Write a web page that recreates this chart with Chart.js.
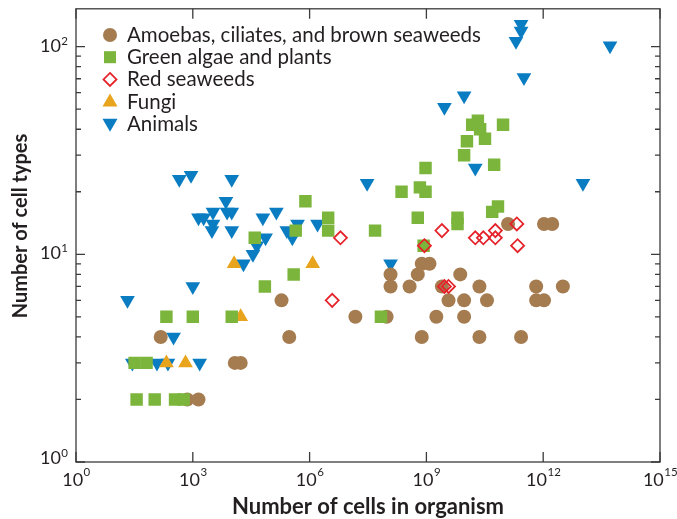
<!DOCTYPE html>
<html>
<head>
<meta charset="utf-8">
<script src="https://cdn.jsdelivr.net/npm/chart.js@4.4.0/dist/chart.umd.min.js"></script>
<style>
  html, body { margin: 0; padding: 0; background: #fff; }
</style>
</head>
<body>
<canvas id="chart" width="677" height="519"></canvas>
<script>
// Datos (x = numero de celulas, y = numero de tipos celulares)
var amoebaX = [1.5e2, 7.2e2, 1.4e3, 1.2e4, 1.7e4, 1.9e5, 3e5, 1.5e7, 9.5e7, 1.2e8, 1.2e8, 3.7e8, 6e8, 7.6e8, 1.2e9, 7.6e8, 1.8e9,
               2.5e9, 3.7e9, 7.4e9, 9.3e9, 9.3e9, 2.3e10, 2.3e10, 3.6e10, 1.25e11, 2.7e11, 6.6e11, 6.6e11, 1.05e12, 1.05e12, 1.7e12, 3.2e12];
var amoebaY = [4, 2, 2, 3, 3, 6, 4, 5, 5, 8, 7, 7, 8, 9, 9, 4, 5,
               7, 6, 8, 6, 5, 7, 4, 6, 14, 4, 7, 6, 6, 14, 14, 7];

var greenX = [3.9e5, 7.1e4, 2.1e2, 1e3, 1e4, 3.2e1, 6.5e1, 3.6e1, 1.05e2, 3.5e2, 5.8e2, 7.8e5, 3.9e4, 4.4e5, 3e6, 3e6,
              9.3e9, 9.5e8, 5.5e10, 2.3e8, 6.8e8, 9.5e8, 4.8e7, 6e8, 6.3e9, 6.3e9, 4.9e10, 6.9e10, 8.5e8, 6.8e7,
              2.1e10, 1.5e10, 9.3e10, 1.1e10, 3.2e10, 2.4e10];
var greenY = [8, 7, 5, 5, 5, 3, 3, 2, 2, 2, 2, 18, 12, 13, 15, 13,
              30, 26, 27, 20, 21, 20, 13, 15, 15, 14, 16, 17, 11, 5,
              44, 42, 42, 35, 36, 40];

var redX = [6.2e6, 3.8e6, 2.5e9, 8.9e8, 1.8e10, 2.9e10, 5.9e10, 5.9e10, 2.1e11, 2.2e11, 2.9e9, 3.7e9];
var redY = [12, 6, 13, 11, 12, 12, 13, 12, 14, 11, 7, 7];

var fungiX = [1.15e4, 1.2e6, 1.7e4, 2.1e2, 6.5e2];
var fungiY = [9, 9, 5, 3, 3];

var animalX = [2.1e1, 2.8e1, 1.2e2, 2.3e2, 1.5e3, 3.2e2, 1e3, 4.5e2, 9e2, 1e4, 7.1e3, 1.4e3, 1.9e3, 3.3e3, 7.6e3, 1e4,
               3.3e3, 3.1e3, 1e4, 6.3e4, 1.4e5, 2.6e5, 3.6e5, 4.9e5, 1.6e6, 7.4e4, 4.4e4, 3.5e4, 2e4,
               3e7, 1.8e10, 1.2e8, 1.05e13, 2.7e11, 2.7e11, 2e11, 5.2e13, 3.2e11, 9.3e9, 2.9e9];
var animalY = [6, 3, 3, 3, 3, 4, 7, 23, 24, 23, 18, 15, 15, 16, 16, 16,
               14, 13, 13, 15, 16, 13, 12, 14, 14, 12, 11, 10, 9,
               22, 26, 9, 22, 128, 119, 106, 101, 71, 58, 51];

// Etiquetas de los ejes
var xTickExp = [0, 3, 6, 9, 12, 15];
var yTickExp = [0, 1, 2];
var yMinorTicks = [2, 3, 4, 5, 6, 7, 8, 9, 20, 30, 40, 50, 60, 70, 80, 90];
var legendLabels = ['Amoebas, ciliates, and brown seaweeds', 'Green algae and plants', 'Red seaweeds', 'Fungi', 'Animals'];

var colorBrown = '#a57b50';
var colorGreen = '#7bb53b';
var colorRed = '#e5232a';
var colorOrange = '#e8a41c';
var colorBlue = '#0a7dc2';
var textColor = '#231f20';
var fontName = 'Lato, "Open Sans", sans-serif';

function toPoints(xs, ys) {
    return xs.map(function (x, i) { return { x: x, y: ys[i] }; });
}

// Dibuja un marcador de la leyenda
function drawMarker(ctx, kind, x, y) {
    ctx.save();
    ctx.beginPath();
    if (kind === 0) {
        ctx.fillStyle = colorBrown;
        ctx.arc(x, y, 7, 0, Math.PI * 2);
        ctx.fill();
    } else if (kind === 1) {
        ctx.fillStyle = colorGreen;
        ctx.fillRect(x - 6, y - 6, 12, 12);
    } else if (kind === 2) {
        ctx.strokeStyle = colorRed;
        ctx.lineWidth = 1.8;
        ctx.moveTo(x, y - 6.5); ctx.lineTo(x + 6.5, y); ctx.lineTo(x, y + 6.5); ctx.lineTo(x - 6.5, y);
        ctx.closePath();
        ctx.stroke();
    } else if (kind === 3) {
        ctx.fillStyle = colorOrange;
        ctx.moveTo(x, y - 8); ctx.lineTo(x + 7.5, y + 5); ctx.lineTo(x - 7.5, y + 5);
        ctx.closePath();
        ctx.fill();
    } else {
        ctx.fillStyle = colorBlue;
        ctx.moveTo(x - 7.5, y - 5); ctx.lineTo(x + 7.5, y - 5); ctx.lineTo(x, y + 8);
        ctx.closePath();
        ctx.fill();
    }
    ctx.restore();
}

// Marco, marcas, etiquetas, titulos y leyenda
var framePlugin = {
    id: 'framePlugin',
    afterDatasetsDraw: function (chart) {
        var ctx = chart.ctx;
        var a = chart.chartArea;
        var xs = chart.scales.x;
        var ys = chart.scales.y;
        ctx.save();
        ctx.strokeStyle = '#3b3b3b';
        ctx.lineWidth = 1.3;
        ctx.strokeRect(a.left, a.top, a.right - a.left, a.bottom - a.top);

        ctx.beginPath();
        xTickExp.forEach(function (e) {
            var px = xs.getPixelForValue(Math.pow(10, e));
            ctx.moveTo(px, a.bottom); ctx.lineTo(px, a.bottom - 10);
            ctx.moveTo(px, a.top); ctx.lineTo(px, a.top + 10);
        });
        yTickExp.forEach(function (e) {
            var py = ys.getPixelForValue(Math.pow(10, e));
            ctx.moveTo(a.left, py); ctx.lineTo(a.left + 9, py);
            ctx.moveTo(a.right, py); ctx.lineTo(a.right - 9, py);
        });
        yMinorTicks.forEach(function (v) {
            var py = ys.getPixelForValue(v);
            ctx.moveTo(a.left, py); ctx.lineTo(a.left + 5, py);
            ctx.moveTo(a.right, py); ctx.lineTo(a.right - 5, py);
        });
        ctx.stroke();

        ctx.fillStyle = textColor;
        ctx.textBaseline = 'alphabetic';
        var big = '18px ' + fontName;
        var small = '11.5px ' + fontName;
        // etiquetas del eje x
        xTickExp.forEach(function (e) {
            var px = xs.getPixelForValue(Math.pow(10, e));
            ctx.font = big;
            var w1 = ctx.measureText('10').width;
            ctx.font = small;
            var w2 = ctx.measureText(String(e)).width;
            var start = px - (w1 + w2) / 2;
            ctx.textAlign = 'left';
            ctx.font = big;
            ctx.fillText('10', start, a.bottom + 24);
            ctx.font = small;
            ctx.fillText(String(e), start + w1 + 0.5, a.bottom + 14);
        });
        // etiquetas del eje y
        yTickExp.forEach(function (e) {
            var py = ys.getPixelForValue(Math.pow(10, e));
            if (e === 0) { py -= 3; }
            ctx.font = small;
            var w2 = ctx.measureText(String(e)).width;
            var right = a.left - 8;
            ctx.textAlign = 'left';
            ctx.fillText(String(e), right - w2, py - 2);
            ctx.textAlign = 'right';
            ctx.font = big;
            ctx.fillText('10', right - w2 - 0.5, py + 5);
        });

        // titulos de los ejes
        ctx.textAlign = 'center';
        ctx.font = 'bold 22px ' + fontName;
        ctx.fillText('Number of cells in organism', (a.left + a.right) / 2, 514);
        ctx.font = 'bold 20px ' + fontName;
        ctx.save();
        ctx.translate(27, 226);
        ctx.rotate(-Math.PI / 2);
        ctx.fillText('Number of cell types', 0, 0);
        ctx.restore();

        // leyenda
        ctx.font = '20.5px ' + fontName;
        ctx.textAlign = 'left';
        legendLabels.forEach(function (label, i) {
            var y = 35 + i * 22.2;
            drawMarker(ctx, i, 110, y);
            ctx.fillStyle = textColor;
            ctx.fillText(label, 127, y + 7);
        });
        ctx.restore();
    }
};

var chartInstance = new Chart(document.getElementById('chart').getContext('2d'), {
    type: 'scatter',
    data: {
        datasets: [{
            label: legendLabels[0],
            data: toPoints(amoebaX, amoebaY),
            pointStyle: 'circle',
            pointRadius: 7,
            backgroundColor: colorBrown,
            borderWidth: 0,
            order: 3
        }, {
            label: legendLabels[1],
            data: toPoints(greenX, greenY),
            pointStyle: 'rect',
            pointRadius: 8.8,
            backgroundColor: colorGreen,
            borderWidth: 0,
            order: 1
        }, {
            label: legendLabels[2],
            data: toPoints(redX, redY),
            pointStyle: 'rectRot',
            pointRadius: 6.5,
            backgroundColor: 'rgba(255,255,255,0)',
            borderColor: colorRed,
            borderWidth: 1.8,
            order: 0
        }, {
            label: legendLabels[3],
            data: toPoints(fungiX, fungiY),
            pointStyle: 'triangle',
            pointRadius: 8.5,
            backgroundColor: colorOrange,
            borderWidth: 0,
            order: 2
        }, {
            label: legendLabels[4],
            data: toPoints(animalX, animalY),
            pointStyle: 'triangle',
            rotation: 180,
            pointRadius: 8.5,
            backgroundColor: colorBlue,
            borderWidth: 0,
            order: 4
        }]
    },
    options: {
        responsive: false,
        animation: false,
        layout: { padding: { left: 76, top: 8, right: 17, bottom: 57 } },
        plugins: {
            legend: { display: false },
            tooltip: { enabled: false }
        },
        scales: {
            x: { type: 'logarithmic', min: 1, max: 1e15, display: false },
            y: { type: 'logarithmic', min: 1, max: 152, display: false }
        }
    },
    plugins: [framePlugin]
});
</script>
</body>
</html>
